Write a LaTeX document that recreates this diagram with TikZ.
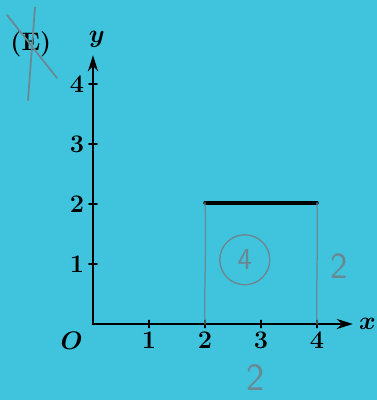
\documentclass[tikz,border=0pt]{standalone}
\usepackage{amsmath,amssymb}
\usepackage{tikz}
\usetikzlibrary{arrows.meta,positioning,calc,backgrounds}
\definecolor{paper}{HTML}{40C4DD}
\definecolor{pencil}{HTML}{6A8891}
\tikzset{axis/.style={-{Stealth[length=3.2mm,width=2mm]},line width=1.5pt},ticklbl/.style={font=\bfseries\Large,inner sep=1pt},penline/.style={pencil,line width=.7pt},pentext/.style={pencil,font=\sffamily,inner sep=0pt},every picture/.style={line cap=round}}

\begin{document}
\begin{tikzpicture}[x=1.12cm,y=1.2cm]
\fill[paper] (-1.661,-1.267) rectangle (5.071,5.4);
\useasboundingbox (-1.661,-1.267) rectangle (5.071,5.4);
\coordinate (o) at (0,0);
\coordinate (xend) at (4.64,0);
\coordinate (yend) at (0,4.48);
\draw[axis] (o)--(xend);
\draw[axis] (o)--(yend);
\foreach \k in {1,...,4}{\draw[line width=1pt] (\k,-.06)--(\k,.06);
\node[ticklbl,anchor=north] (x\k) at (\k,-.1) {\k};}
\foreach \k in {1,...,4}{\draw[line width=1pt] (-.07,\k)--(.07,\k);
\node[ticklbl,anchor=east] (y\k) at (-.12,\k) {\k};}
\node[font=\Large] (xl) at (4.9,0) {$\boldsymbol{x}$};
\node[font=\Large] (yl) at (.07,4.75) {$\boldsymbol{y}$};
\node[font=\Large] (ol) at (-.38,-.28) {$\boldsymbol{O}$};
% square
\draw[line width=2pt] (2,2.02)--(4,2.02);
\draw[penline] (2,2.02) .. controls (2.03,1.3) and (1.98,.6) .. (2,0);
\draw[penline] (4,2.02) .. controls (4.02,1.2) and (3.98,.5) .. (4,0);
\draw[penline,line width=.8pt] (2.71,1.07) circle (.5cm);
\node[pentext,font=\sffamily\LARGE] (area) at (2.71,1.07) {4};
\node[pentext,font=\sffamily\fontsize{21}{23}\selectfont] (side) at (4.39,.97) {2};
\node[pentext,font=\sffamily\fontsize{22}{24}\selectfont] (base) at (2.91,-.9) {2};
% crossed label
\node[font=\bfseries\Large,inner sep=0pt] (lab) at (-1.11,4.67) {(E)};
\draw[penline,line width=1pt] (-1.536,5.15)--(-.643,4.1);
\draw[penline,line width=1pt] (-1.036,5.28)--(-1.161,3.73);
\end{tikzpicture}
\end{document}
